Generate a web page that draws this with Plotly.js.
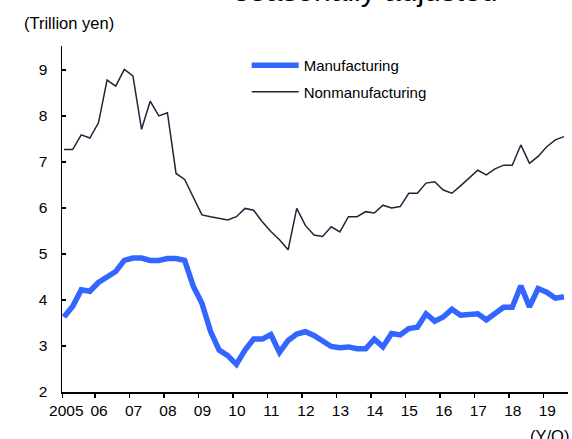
<!DOCTYPE html>
<html>
<head>
<meta charset="utf-8">
<script src="https://cdn.plot.ly/plotly-3.0.1.min.js"></script>
<style>html,body{margin:0;padding:0;background:#fff;}#chart{width:572px;height:439px;}</style>
</head>
<body>
<div id="chart"></div>
<script>
// Quarterly data, 2005 Q1 .. 2019 Q3 (trillion yen, seasonally adjusted)
const yearLabels = ['2005','06','07','08','09','10','11','12','13','14','15','16','17','18','19'];
const manufacturing = [
  3.63, 3.86, 4.22, 4.19, 4.38, 4.50, 4.62, 4.86, 4.91, 4.91, 4.86, 4.86, 4.90, 4.90, 4.86,
  4.30, 3.93, 3.32, 2.91, 2.79, 2.60, 2.91, 3.15, 3.15, 3.25, 2.86, 3.12, 3.26, 3.31, 3.23,
  3.12, 2.99, 2.96, 2.98, 2.94, 2.94, 3.15, 2.98, 3.27, 3.24, 3.38, 3.41, 3.70, 3.54, 3.63,
  3.80, 3.67, 3.70, 3.70, 3.57, 3.70, 3.84, 3.84, 4.31, 3.85, 4.25, 4.17, 4.04, 4.07
];
const nonmanufacturing = [
  7.27, 7.27, 7.59, 7.52, 7.85, 8.78, 8.65, 9.01, 8.87, 7.71, 8.32, 8.00, 8.07, 6.75, 6.62,
  6.22, 5.85, 5.81, 5.78, 5.74, 5.81, 5.99, 5.95, 5.70, 5.49, 5.31, 5.09, 5.99, 5.62, 5.41,
  5.38, 5.59, 5.48, 5.81, 5.81, 5.92, 5.89, 6.06, 6.00, 6.03, 6.32, 6.32, 6.54, 6.57, 6.39,
  6.32, 6.48, 6.65, 6.82, 6.72, 6.85, 6.93, 6.93, 7.37, 6.97, 7.12, 7.33, 7.48, 7.55
];

const qIndex = manufacturing.map((_, i) => i);
const FONT = 'Liberation Sans, Arial, sans-serif';

const traces = [
  {
    x: qIndex, y: manufacturing, name: 'Manufacturing', type: 'scatter', mode: 'lines',
    legendgroup: 'm', line: {color: '#3366FF', width: 5.5}
  },
  {
    x: qIndex, y: nonmanufacturing, name: 'Nonmanufacturing', type: 'scatter', mode: 'lines',
    legendgroup: 'n', line: {color: '#1E2636', width: 1.5}
  }
];

const layout = {
  width: 572, height: 439,
  margin: {l: 62, r: 4, t: 46, b: 47, pad: 0},
  paper_bgcolor: '#fff', plot_bgcolor: '#fff',
  font: {family: FONT, size: 15, color: '#000'},
  showlegend: true,
  legend: {
    x: 0.365, y: 0.991, xanchor: 'left', yanchor: 'top',
    bgcolor: 'rgba(0,0,0,0)', font: {size: 15, family: FONT},
    traceorder: 'grouped', tracegroupgap: 4, itemwidth: 47
  },
  xaxis: {
    range: [-0.23, 58.47],
    tickmode: 'array',
    tickvals: yearLabels.map((_, k) => Math.max(4 * k - 0.4, -0.2)),
    ticktext: yearLabels,
    ticks: 'outside', ticklen: 4, tickwidth: 1.5, tickcolor: '#000',
    ticklabelshift: 4,
    showline: true, linecolor: '#000', linewidth: 1.5,
    showgrid: false, zeroline: false,
    tickfont: {size: 15.5, family: FONT}
  },
  yaxis: {
    range: [2, 9.52],
    tickvals: [2, 3, 4, 5, 6, 7, 8, 9],
    ticks: 'inside', ticklen: 4, tickwidth: 1.5, tickcolor: '#000',
    ticklabelstandoff: 10,
    showline: true, linecolor: '#000', linewidth: 1.5,
    showgrid: false, zeroline: false,
    tickfont: {size: 15.5, family: FONT}
  },
  annotations: [
    {text: 'seasonally adjusted', xref: 'paper', yref: 'paper', x: 0.6, y: 1.106, xanchor: 'center', yanchor: 'bottom',
     showarrow: false, font: {size: 30, family: FONT, color: '#000'}},
    {text: '(Trillion yen)', xref: 'paper', yref: 'paper', x: -0.08, y: 1.066, xanchor: 'left', yanchor: 'middle',
     showarrow: false, font: {size: 16.5, family: FONT, color: '#000'}},
    {text: '(Y/Q)', xref: 'paper', yref: 'paper', x: 0.92, y: -0.095, xanchor: 'left', yanchor: 'top',
     showarrow: false, font: {size: 16.5, family: FONT, color: '#000'}}
  ]
};

Plotly.newPlot('chart', traces, layout, {staticPlot: true, displayModeBar: false});
</script>
</body>
</html>
